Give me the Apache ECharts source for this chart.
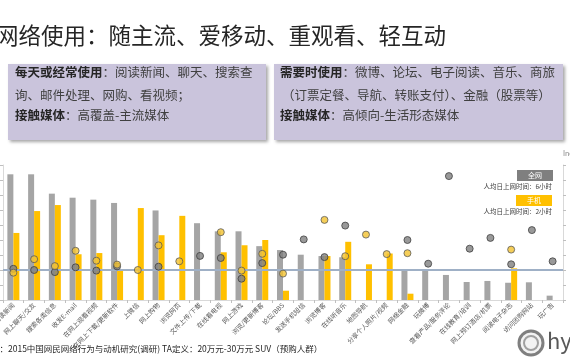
<!DOCTYPE html>
<html><head><meta charset="utf-8">
<script src="https://cdn.jsdelivr.net/npm/echarts@6/dist/echarts.min.js"></script>
<style>html,body{margin:0;padding:0;background:#fff;}#c{width:570px;height:360px;}</style>
</head><body><div id="c"></div>
<script>
var categories = ['阅读新闻','网上聊天/交友','搜索各类信息','收发E-mail','在网上观看视频','在网上下载/更新软件','上微信','网上购物','浏览网页','文件上传/下载','在线看电视','网上游戏','浏览/更新博客','论坛/BBS','发送手机短信','浏览博客','在线听音乐','地图导航','分享个人照片/视频','网络金融','玩微博','查看产品/服务评论','在线教育/培训','网上预订酒店/机票','阅读电子杂志','访问团购网站','玩广告'];
var allNetShare = [83.8,83.8,70.9,68.2,66.9,64.7,null,59.7,null,51.2,45.8,45.8,35.9,33.3,30.2,29.3,28.5,null,null,20.5,19.5,16.7,12,12.7,11.5,11.8,2.9];
var mobileShare = [44.7,59.3,63.3,30.5,31.3,19.5,61.3,43.2,56.1,null,31.8,36.5,40,6.2,null,29.3,38.8,23.8,31,4.2,null,null,null,null,21.1,null,null];
var allNetIndex = [104,100,93,109,98,112,null,111,null,147,140,71,123,151,202,143,248,null,null,200,121,413,171,207,119,233,129];
var mobileIndex = [91,136,113,164,131,118,100,182,129,null,226,98,154,88,null,267,146,218,153,156,null,null,null,null,168,null,null];
var shareTicks = {min:0, max:90, interval:10};
var indexTicks = {min:0, max:450, interval:50};
var baselineIndex = 100;
var legendNames = ['全网','手机'];
var legendNotes = ['人均日上网时间：6小时','人均日上网时间：2小时'];

var chart = echarts.init(document.getElementById('c'), null, {renderer:'canvas'});
var FONT = '"Noto Sans CJK SC","Noto Sans",sans-serif';
var GRAY='#a5a5a5', YELLOW='#ffc000';
function boxText(x,y,str){
  return {type:'text', left:x, top:y, style:{text:str, font:'12.5px '+FONT, fill:'#404040',
    rich:{b:{fontWeight:'bold', fontSize:12.5, fontFamily:FONT, fill:'#262626'}}}, z:10};
}
chart.setOption({
  animation:false,
  textStyle:{fontFamily:FONT},
  grid:{left:3, right:7, top:165, bottom:60, containLabel:false, outerBoundsMode:'none'},
  xAxis:{type:'category', data:categories,
    axisLine:{lineStyle:{color:'#d9d9d9'}},
    axisTick:{show:true, lineStyle:{color:'#bfbfbf'}, length:3},
    axisLabel:{interval:0, rotate:45, fontSize:6.5, color:'#595959', margin:4}},
  yAxis:[
    {type:'value', min:shareTicks.min, max:shareTicks.max, interval:shareTicks.interval,
      splitLine:{show:false}, axisLine:{show:true, lineStyle:{color:'#d9d9d9'}},
      axisTick:{show:true, length:3, lineStyle:{color:'#bfbfbf'}},
      axisLabel:{fontSize:7, color:'#595959'}},
    {type:'value', min:indexTicks.min, max:indexTicks.max, interval:indexTicks.interval, position:'right',
      name:'Index', nameTextStyle:{fontSize:7, color:'#7f7f7f', align:'left'}, nameGap:8,
      splitLine:{show:false}, axisLine:{show:true, lineStyle:{color:'#d9d9d9'}},
      axisTick:{show:true, length:3, lineStyle:{color:'#bfbfbf'}},
      axisLabel:{fontSize:7, color:'#595959'}}
  ],
  series:[
    {name:legendNames[0], type:'bar', data:allNetShare, barWidth:6, barGap:'0%', itemStyle:{color:GRAY}},
    {name:legendNames[1], type:'bar', data:mobileShare, barWidth:6, barGap:'0%', itemStyle:{color:YELLOW}},
    {name:legendNames[0]+'指数', type:'scatter', yAxisIndex:1, data:allNetIndex, symbolSize:7,
      itemStyle:{color:'#7f7f7f', borderColor:'#404040', borderWidth:1}, z:5},
    {name:legendNames[1]+'指数', type:'scatter', yAxisIndex:1, data:mobileIndex, symbolSize:7,
      itemStyle:{color:'#f2c230', borderColor:'#5a5a5a', borderWidth:1}, z:6,
      markLine:{silent:true, symbol:['none','none'], label:{show:false},
        lineStyle:{color:'#9fb0c6', width:2, type:'solid'}, data:[{yAxis:baselineIndex}]}}
  ],
  graphic:[
    {type:'text', left:-4, top:24, style:{text:'网络使用：随主流、爱移动、重观看、轻互动', font:'22.5px '+FONT, fill:'#262626'}},
    {type:'rect', shape:{x:8, y:64, width:258, height:76}, style:{fill:'#cac4dc', shadowBlur:3, shadowOffsetX:2, shadowOffsetY:2, shadowColor:'rgba(0,0,0,0.35)'}},
    {type:'rect', shape:{x:274, y:64, width:289, height:76}, style:{fill:'#cac4dc', shadowBlur:3, shadowOffsetX:2, shadowOffsetY:2, shadowColor:'rgba(0,0,0,0.35)'}},
    boxText(15,66,'{b|每天或经常使用}：阅读新闻、聊天、搜索查'),
    boxText(15,89,'询、邮件处理、网购、看视频；'),
    boxText(15,109,'{b|接触媒体}：高覆盖-主流媒体'),
    boxText(280,66,'{b|需要时使用}：微博、论坛、电子阅读、音乐、商旅'),
    boxText(282,89,'（订票定餐、导航、转账支付）、金融（股票等）'),
    boxText(280,109,'{b|接触媒体}：高倾向-生活形态媒体'),
    {type:'rect', shape:{x:517, y:170, width:36, height:11}, style:{fill:'#7f7f7f'}},
    {type:'text', x:535, y:175.5, style:{text:legendNames[0], font:'7px '+FONT, fill:'#fff', align:'center', verticalAlign:'middle'}},
    {type:'text', x:552, y:187, style:{text:legendNotes[0], font:'6.5px '+FONT, fill:'#404040', align:'right', verticalAlign:'middle'}},
    {type:'rect', shape:{x:516, y:195, width:36, height:11}, style:{fill:YELLOW}},
    {type:'text', x:534, y:200.5, style:{text:legendNames[1], font:'7px '+FONT, fill:'#fff', align:'center', verticalAlign:'middle'}},
    {type:'text', x:552, y:212, style:{text:legendNotes[1], font:'6.5px '+FONT, fill:'#404040', align:'right', verticalAlign:'middle'}},
    {type:'text', left:-9, top:345, style:{text:'注：2015中国网民网络行为与动机研究(调研) TA定义：20万元-30万元 SUV（预购人群）', font:'8.5px '+FONT, fill:'#262626'}},
    {type:'circle', shape:{cx:531, cy:343, r:12}, style:{fill:'#f2f2f2', stroke:'#7f7f7f', lineWidth:3}},
    {type:'circle', shape:{cx:531, cy:343, r:7}, style:{fill:'none', stroke:'#a0a0a0', lineWidth:2}},
    {type:'text', left:547, top:330, style:{text:'hy', font:'22px '+FONT, fill:'#595959'}}
  ]
});
</script></body></html>
